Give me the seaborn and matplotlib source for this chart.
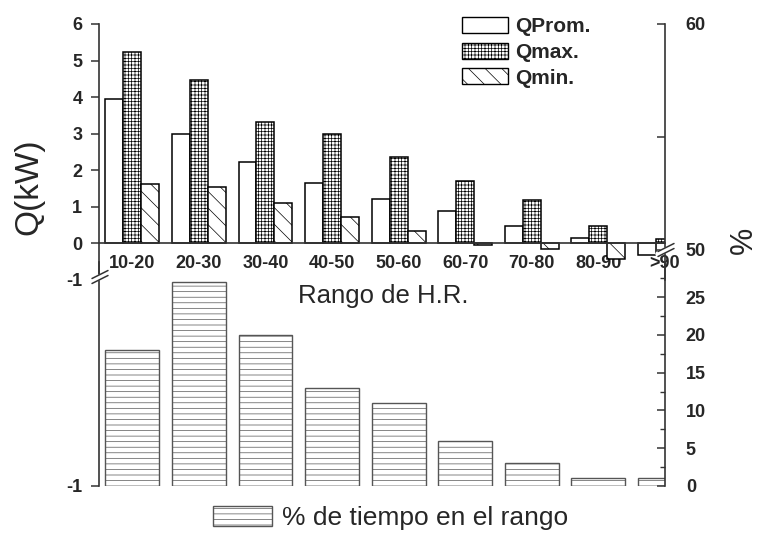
import matplotlib.pyplot as plt
import matplotlib.ticker as mticker
from matplotlib.patches import Patch
from matplotlib.lines import Line2D
import seaborn as sns
import pandas as pd

# datos
rangos = ["10-20", "20-30", "30-40", "40-50", "50-60", "60-70", "70-80", "80-90", ">90"]
series = ["QProm.", "Qmax.", "Qmin."]
q_prom = [3.95, 3.00, 2.24, 1.66, 1.22, 0.88, 0.48, 0.14, -0.33]
q_max = [5.24, 4.48, 3.31, 3.00, 2.35, 1.72, 1.20, 0.47, 0.13]
q_min = [1.63, 1.54, 1.10, 0.72, 0.35, -0.03, -0.15, -0.42, -0.50]
tiempo = [18, 27, 20, 13, 11, 6, 3, 1, 1]
hatches = ["", "+++++", "\\\\"]

sns.set_style("white")
plt.rcParams["font.family"] = ["Liberation Sans", "DejaVu Sans"]
plt.rcParams["hatch.linewidth"] = 0.5

df_q = pd.DataFrame({
    "Rango": rangos * 3,
    "Serie": [s for s in series for _ in rangos],
    "Q": q_prom + q_max + q_min,
})
df_t = pd.DataFrame({"Rango": rangos, "Tiempo": tiempo})

W, H = 758, 535
fig = plt.figure(figsize=(W / 100, H / 100), dpi=100)


def rect(x0, y0, x1, y1):
    return [x0 / W, 1 - y1 / H, (x1 - x0) / W, (y1 - y0) / H]


def bold(labels):
    for t in labels:
        t.set_fontweight("bold")


axis_col = "#333333"
tick_fs = 13
axb = fig.add_axes(rect(99, 262, 665, 486))
ax = fig.add_axes(rect(99, 24, 665, 280))
for a in (ax, axb):
    a.set_facecolor("none")

# panel superior: Q
sns.barplot(data=df_q, x="Rango", y="Q", hue="Serie", order=rangos, hue_order=series,
            palette={s: "white" for s in series}, edgecolor="black", linewidth=1.1,
            width=0.81, saturation=1, errorbar=None, legend=False, ax=ax)
for cont, h in zip(ax.containers, hatches):
    for bar in cont:
        bar.set_hatch(h)

ax.set_xlim(-0.5, 8.0)
ax.set_ylim(-1, 6)
ax.set_xlabel("")
ax.set_ylabel("")
ax.spines["bottom"].set_position(("data", 0))
ax.spines["top"].set_visible(False)
ax.spines["right"].set_visible(False)
for s in ("left", "bottom"):
    ax.spines[s].set_color(axis_col)
    ax.spines[s].set_linewidth(1.2)
ax.set_yticks(range(-1, 7))
ax.set_yticklabels([str(v) for v in range(-1, 7)])
ax.xaxis.set_minor_locator(mticker.MultipleLocator(1 / 3))
ax.tick_params(axis="y", direction="out", length=6, width=1.1, pad=6, labelsize=tick_fs, color=axis_col)
ax.tick_params(axis="x", which="major", direction="out", length=6, width=1.1, pad=2.5, labelsize=tick_fs, color=axis_col)
ax.tick_params(axis="x", which="minor", direction="out", length=3.5, width=1, color=axis_col)
bold(ax.get_yticklabels())
bold(ax.get_xticklabels())

axr = ax.twinx()
axr.set_ylim(48.67, 60)
axr.set_yticks([50, 55, 60])
axr.set_yticklabels(["50", "", "60"])
for s in ("left", "top", "bottom"):
    axr.spines[s].set_visible(False)
axr.spines["right"].set_color(axis_col)
axr.spines["right"].set_linewidth(1.2)
axr.tick_params(axis="y", direction="in", length=6, width=1.1, pad=15, labelsize=tick_fs, color=axis_col)
bold(axr.get_yticklabels())

# panel inferior: % de tiempo
sns.barplot(data=df_t, x="Rango", y="Tiempo", order=rangos, color="white",
            edgecolor="#555555", linewidth=1, width=0.81, saturation=1,
            errorbar=None, ax=axb)
for bar in axb.patches:
    bar.set_hatch("---")
axb.set_xlim(-0.5, 8.0)
axb.set_ylim(0, 29.63)
axb.set_xlabel("")
axb.set_ylabel("")
axb.set_xticks([])
axb.spines["top"].set_visible(False)
axb.spines["bottom"].set_visible(False)
axb.spines["right"].set_visible(False)
axb.spines["left"].set_color(axis_col)
axb.spines["left"].set_linewidth(1.2)
axb.set_yticks([0])
axb.set_yticklabels(["-1"])
axb.tick_params(axis="y", direction="out", length=6, width=1.1, pad=6, labelsize=tick_fs, color=axis_col)
bold(axb.get_yticklabels())

axbr = axb.twinx()
axbr.set_ylim(0, 29.63)
axbr.set_yticks(range(0, 30, 5))
axbr.yaxis.set_minor_locator(mticker.MultipleLocator(2.5))
for s in ("left", "top", "bottom"):
    axbr.spines[s].set_visible(False)
axbr.spines["right"].set_color(axis_col)
axbr.spines["right"].set_linewidth(1.2)
axbr.tick_params(axis="y", which="major", direction="in", length=6, width=1.1, pad=15, labelsize=tick_fs, color=axis_col)
axbr.tick_params(axis="y", which="minor", direction="in", length=3.5, width=1, color=axis_col)
bold(axbr.get_yticklabels())


# marcas de corte de eje
def corte(xc, yc):
    for dy, col, lw in ((0, "white", 4), (-2.5, axis_col, 1.1), (2.5, axis_col, 1.1)):
        fig.add_artist(Line2D([(xc - 8) / W, (xc + 8) / W],
                              [1 - (yc + 4 + dy) / H, 1 - (yc - 4 + dy) / H],
                              color=col, lw=lw))


corte(100, 277)
corte(666, 250)

fig.text(29 / W, 1 - 187 / H, "Q(kW)", rotation=90, fontsize=24, ha="center", va="center")
fig.text(383 / W, 1 - 296 / H, "Rango de H.R.", fontsize=18.5, ha="center", va="center")
fig.text(744 / W, 1 - 240 / H, "%", rotation=90, fontsize=22, ha="center", va="center")

h_top = [Patch(facecolor="white", edgecolor="black", hatch=h, label=s)
         for s, h in zip(series, hatches)]
fig.legend(handles=h_top, loc="upper left", bbox_to_anchor=(462 / W, 1 - 17 / H),
           frameon=False, prop={"weight": "bold", "size": 15}, handlelength=2.2,
           handleheight=0.82, handletextpad=0.35, labelspacing=0.3, borderpad=0,
           borderaxespad=0)
h_bot = [Patch(facecolor="white", edgecolor="#555555", hatch="---", label="% de tiempo en el rango")]
fig.legend(handles=h_bot, loc="center left", bbox_to_anchor=(213 / W, 1 - 518 / H),
           frameon=False, fontsize=19, handlelength=2.23, handleheight=0.83,
           handletextpad=0.38, borderpad=0, borderaxespad=0)

fig.savefig("out.png", dpi=100)
plt.close(fig)
